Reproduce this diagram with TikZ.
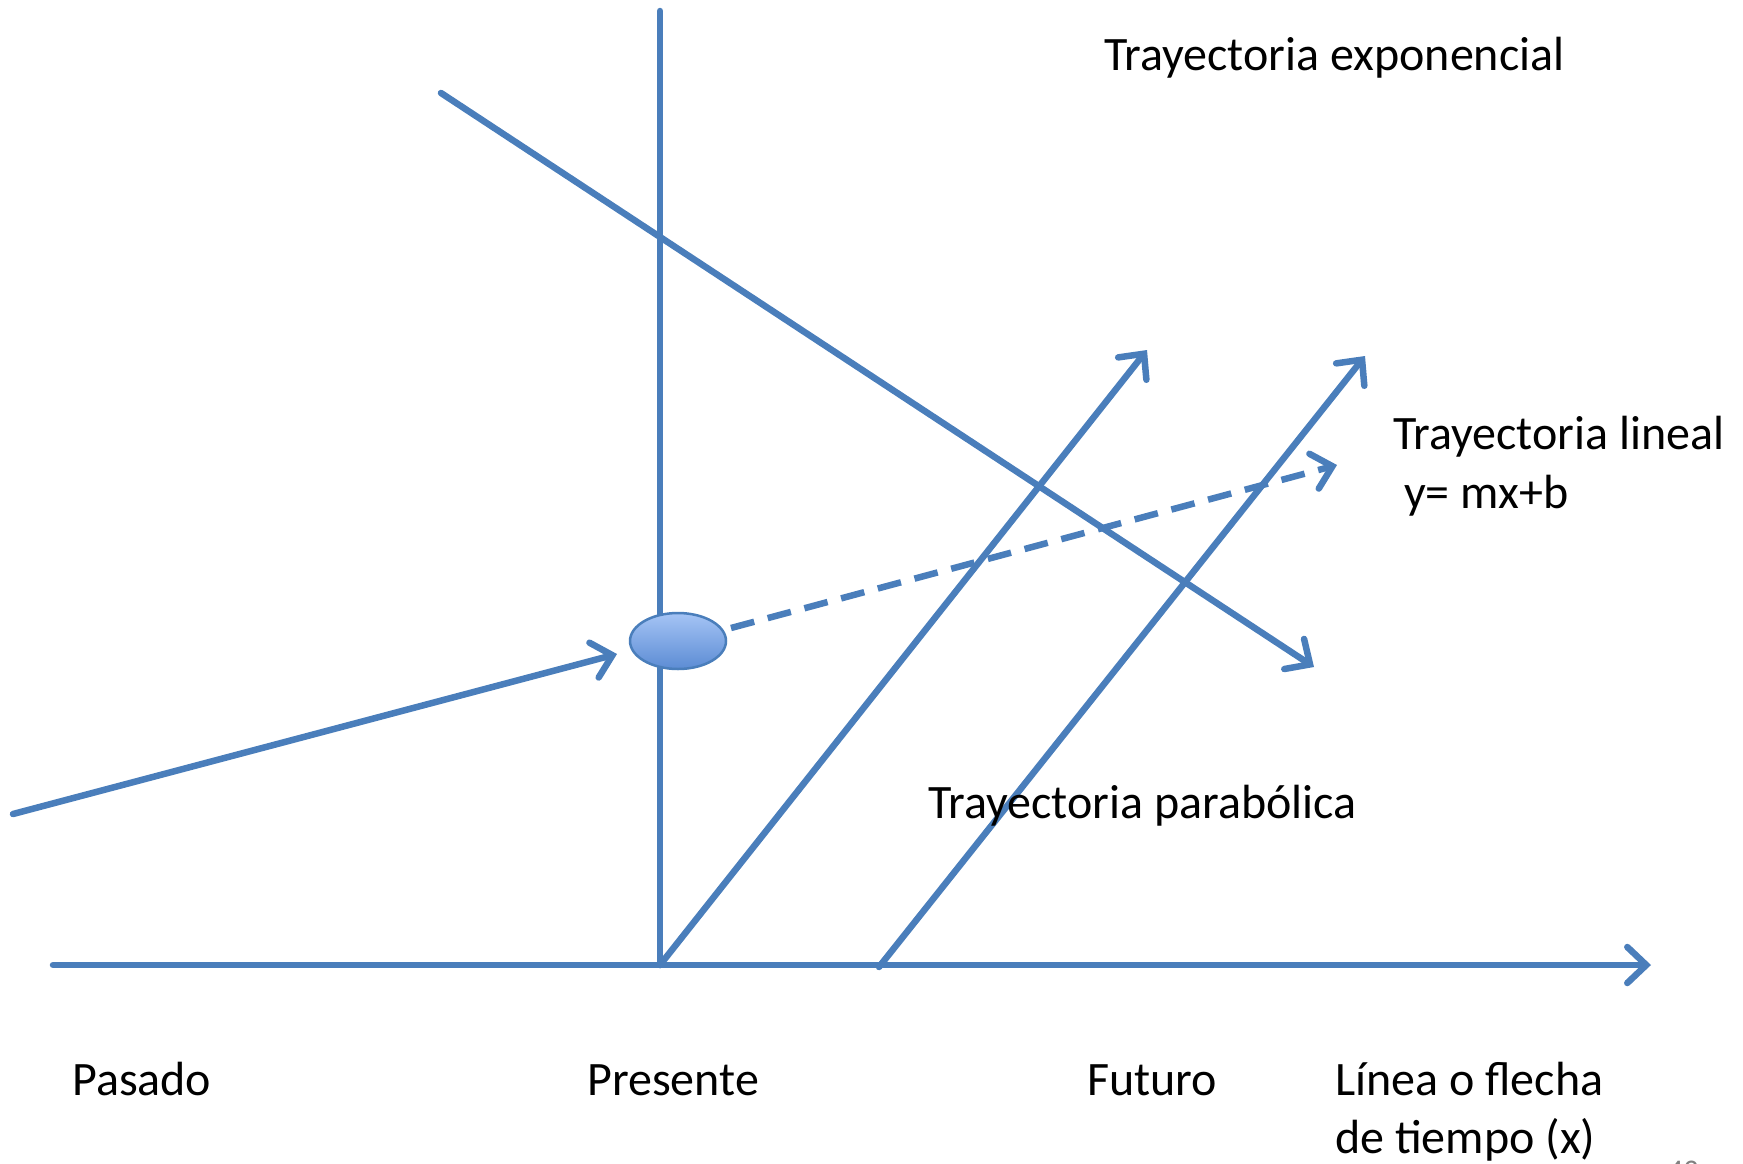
\documentclass[tikz,border=0pt]{standalone}
\usepackage{fontspec}
\setmainfont{Carlito}
\usetikzlibrary{arrows.meta,shapes.geometric}
\definecolor{ppblue}{RGB}{74,126,187}
\definecolor{pptop}{RGB}{165,196,245}
\definecolor{ppbot}{RGB}{92,140,212}

\begin{document}
\begin{tikzpicture}[x=1pt,y=-1pt,
    line/.style={ppblue, line width=6.5pt, line cap=round},
    tip/.style={-{Straight Barb[length=19pt,width=36pt,line cap=round]}},
    lbl/.style={anchor=base west, inner sep=0pt, font=\fontsize{48}{56}\selectfont}]
                \useasboundingbox (0,0) rectangle (1743,1163);

                %% ejes
                \coordinate (xini) at (53,965);
                \coordinate (xfin) at (1651,965);
                \coordinate (ytop) at (660,11);
                \coordinate (orig) at (660,965);
                \coordinate (fut)  at (879,967);
                \draw[line, tip] (xini) -- (xfin);
                \draw[line] (ytop) -- (orig);

                %% pasado -> presente
                \coordinate (past) at (13,814);
                \node[ellipse, minimum width=96pt, minimum height=56pt, draw=ppblue, line width=2.5pt,
                      top color=pptop, bottom color=ppbot] (pres) at (678,641) {};
                \draw[line, tip] (past) -- (617,654);

                %lineal
                \coordinate (linini) at (731,628);
                \coordinate (linend) at (1337,465);
                \draw[line, tip, dash pattern=on 24pt off 14pt, line cap=butt] (linini) -- (linend);

                %exponencial
                \coordinate (expini) at (441,93);
                \coordinate (expend) at (1314,667);
                \draw[line, tip] (expini) -- (expend);

                %parabolica
                \coordinate (parA) at (1147,350);
                \coordinate (parB) at (1365,356);
                \draw[line, tip] (orig) -- (parA);
                \draw[line, tip] (fut) -- (parB);

                %% textos
                \node[lbl] (texp) at (1104,70)  {Trayectoria exponencial};
                \node[lbl] (tlin) at (1393,449) {Trayectoria lineal};
                \node[lbl] (tecu) at (1404,508) {y= mx+b};
                \node[lbl] (tpar) at (928,818)  {Trayectoria parabólica};
                \node[lbl] (tpas) at (72,1095)  {Pasado};
                \node[lbl] (tpre) at (587,1095) {Presente};
                \node[lbl] (tfut) at (1087,1095) {Futuro};
                \node[lbl] (tli1) at (1335,1095) {Línea o flecha};
                \node[lbl] (tli2) at (1335,1153) {de tiempo (x)};
                \node[lbl, gray, font=\fontsize{30}{36}\selectfont] (pag) at (1668,1180) {43};
\end{tikzpicture}
\end{document}
